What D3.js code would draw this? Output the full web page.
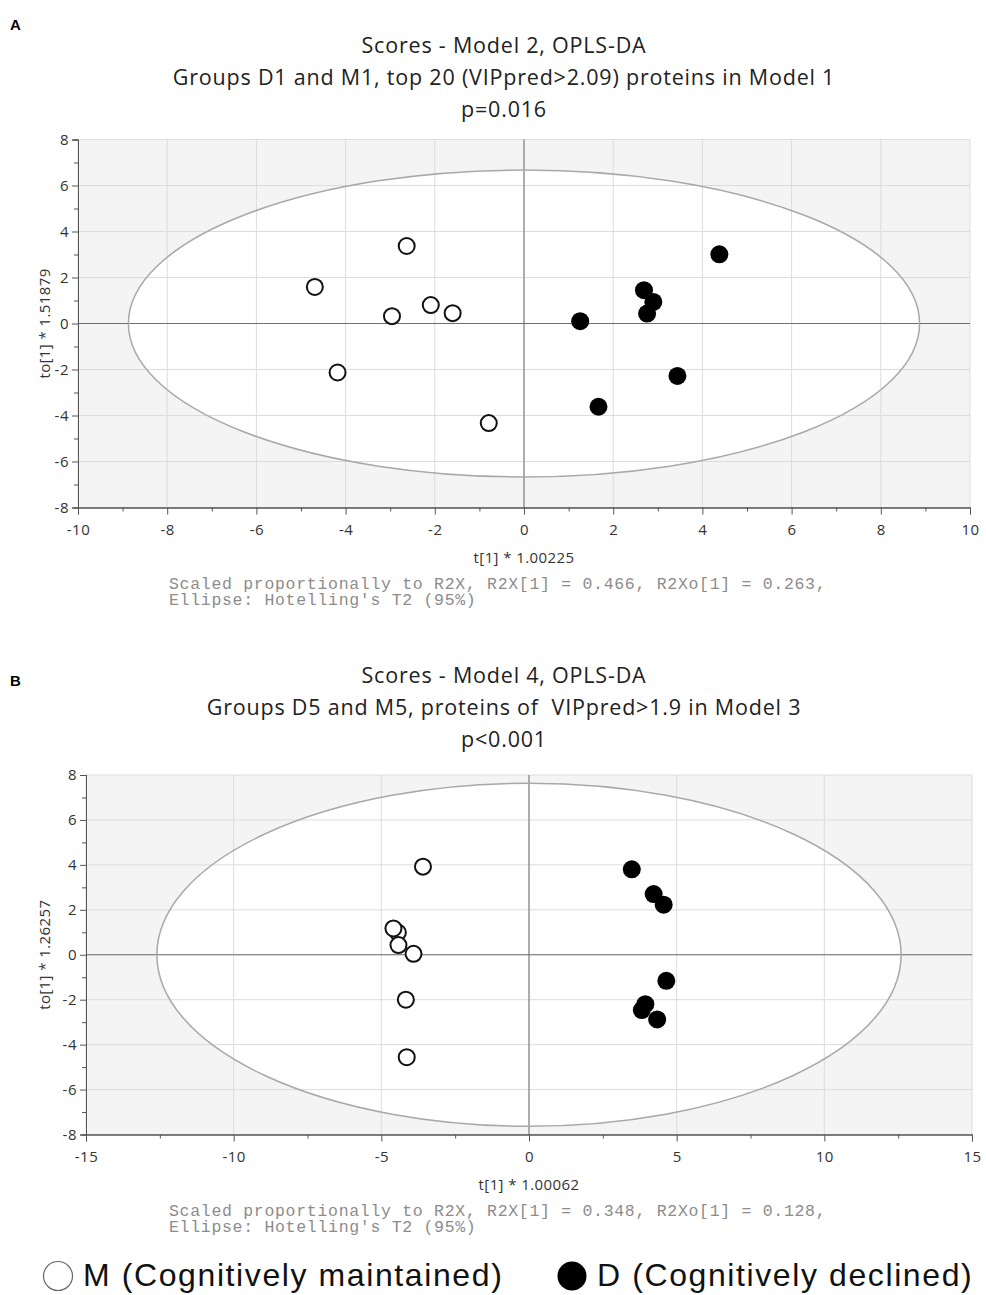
<!DOCTYPE html>
<html>
<head>
<meta charset="utf-8">
<script src="https://cdn.jsdelivr.net/npm/d3@7"></script>
<style>
  body { margin: 0; background: #fff; }
  svg { display: block; }
  text { white-space: pre; }
</style>
</head>
<body>
<div id="chart"></div>
<script>
// Panel A: OPLS-DA scores, Model 2
const aTitle = ['Scores - Model 2, OPLS-DA',
  'Groups D1 and M1, top 20 (VIPpred>2.09) proteins in Model 1', 'p=0.016'];
const aMaintained = [[-4.69, 1.59], [-2.63, 3.37], [-2.96, 0.32], [-2.09, 0.80],
  [-1.60, 0.45], [-4.18, -2.13], [-0.79, -4.33]];
const aDeclined = [[4.38, 3.01], [2.69, 1.45], [2.90, 0.94], [2.76, 0.43],
  [1.26, 0.10], [3.44, -2.28], [1.67, -3.62]];
const aEllipse = [8.87, 6.67];
const aXTicks = [-10, -8, -6, -4, -2, 0, 2, 4, 6, 8, 10];
const aYTicks = [-8, -6, -4, -2, 0, 2, 4, 6, 8];
const aXLabel = 't[1] * 1.00225';
const aYLabel = 'to[1] * 1.51879';
const aNote = ['Scaled proportionally to R2X, R2X[1] = 0.466, R2Xo[1] = 0.263,',
  "Ellipse: Hotelling's T2 (95%)"];

// Panel B: OPLS-DA scores, Model 4
const bTitle = ['Scores - Model 4, OPLS-DA',
  'Groups D5 and M5, proteins of  VIPpred>1.9 in Model 3', 'p<0.001'];
const bMaintained = [[-3.59, 3.92], [-4.44, 0.99], [-4.59, 1.17], [-4.42, 0.43],
  [-3.91, 0.04], [-4.17, -2.00], [-4.14, -4.56]];
const bDeclined = [[3.48, 3.80], [4.22, 2.70], [4.56, 2.23], [4.65, -1.16],
  [3.94, -2.20], [3.82, -2.46], [4.34, -2.88]];
const bEllipse = [12.6, 7.63];
const bXTicks = [-15, -10, -5, 0, 5, 10, 15];
const bYTicks = [-8, -6, -4, -2, 0, 2, 4, 6, 8];
const bXLabel = 't[1] * 1.00062';
const bYLabel = 'to[1] * 1.26257';
const bNote = ['Scaled proportionally to R2X, R2X[1] = 0.348, R2Xo[1] = 0.128,',
  "Ellipse: Hotelling's T2 (95%)"];

const legendItems = [
  { label: 'M (Cognitively maintained)', filled: false },
  { label: 'D (Cognitively declined)', filled: true }
];

const width = 986;
const height = 1295;
const sans = "'Open Sans', 'Noto Sans', sans-serif";

const svg = d3.select('#chart')
  .append('svg')
    .attr('width', width)
    .attr('height', height);

function drawPanel(p) {
  const g = svg.append('g').attr('transform', `translate(0,${p.top})`);

  const x = d3.scaleLinear().domain(p.xDomain).range([p.left, p.right]);
  const y = d3.scaleLinear().domain([-8, 8]).range([p.bottom, p.plotTop]);

  // panel letter
  g.append('text')
    .attr('x', 10).attr('y', p.letterY)
    .style('font', `bold 15px 'Liberation Sans', Arial, sans-serif`)
    .text(p.letter);

  // titles
  g.selectAll('.title')
    .data(p.title)
    .enter()
      .append('text')
        .attr('x', p.titleX)
        .attr('y', (d, i) => 53 + i * 32)
        .attr('text-anchor', 'middle')
        .style('font-family', sans)
        .style('font-size', '21.5px')
        .style('letter-spacing', '0.8px')
        .attr('fill', '#222')
        .text(d => d);

  // plot background, outside ellipse is grey
  g.append('rect')
    .attr('x', p.left).attr('y', p.plotTop)
    .attr('width', p.right - p.left).attr('height', p.bottom - p.plotTop)
    .attr('fill', '#f4f4f4');

  g.append('ellipse')
    .attr('cx', x(0)).attr('cy', y(0))
    .attr('rx', x(p.ellipse[0]) - x(0))
    .attr('ry', y(0) - y(p.ellipse[1]))
    .attr('fill', '#fff');

  // grid
  g.append('g')
    .attr('stroke', '#dcdcdc')
    .selectAll('line')
      .data(p.xTicks)
      .enter()
        .append('line')
          .attr('x1', d => x(d)).attr('x2', d => x(d))
          .attr('y1', p.plotTop).attr('y2', p.bottom);

  g.append('g')
    .attr('stroke', '#dcdcdc')
    .selectAll('line')
      .data(p.yTicks)
      .enter()
        .append('line')
          .attr('x1', p.left).attr('x2', p.right)
          .attr('y1', d => y(d)).attr('y2', d => y(d));

  // zero lines
  g.append('line')
    .attr('x1', x(0)).attr('x2', x(0))
    .attr('y1', p.plotTop).attr('y2', p.bottom)
    .attr('stroke', '#6e6e6e');
  g.append('line')
    .attr('x1', p.left).attr('x2', p.right)
    .attr('y1', y(0)).attr('y2', y(0))
    .attr('stroke', '#6e6e6e');

  g.append('ellipse')
    .attr('cx', x(0)).attr('cy', y(0))
    .attr('rx', x(p.ellipse[0]) - x(0))
    .attr('ry', y(0) - y(p.ellipse[1]))
    .attr('fill', 'none')
    .attr('stroke', '#a8a8a8')
    .attr('stroke-width', 1.5);

  // axes
  g.append('g')
    .attr('transform', `translate(0,${p.bottom})`)
    .call(d3.axisBottom(x).tickValues(p.xMinor).tickSize(4).tickFormat(''));
  g.append('g')
    .attr('transform', `translate(0,${p.bottom})`)
    .call(d3.axisBottom(x).tickValues(p.xTicks).tickSize(7).tickPadding(10)
      .tickFormat(d => String(d)));
  g.append('g')
    .attr('transform', `translate(${p.left},0)`)
    .call(d3.axisLeft(y).tickValues(d3.range(-7, 8, 2)).tickSize(4).tickFormat(''));
  g.append('g')
    .attr('transform', `translate(${p.left},0)`)
    .call(d3.axisLeft(y).tickValues(p.yTicks).tickSize(6).tickPadding(3)
      .tickFormat(d => String(d)));

  g.selectAll('.domain, .tick line').attr('stroke', '#555');
  g.selectAll('.tick text')
    .style('font-family', sans)
    .style('font-size', '15px')
    .style('letter-spacing', '0.5px')
    .attr('fill', '#333');

  // axis titles
  g.append('text')
    .attr('x', x(0)).attr('y', p.bottom + 55)
    .attr('text-anchor', 'middle')
    .style('font-family', sans).style('font-size', '15px')
    .style('letter-spacing', '0.4px')
    .attr('fill', '#333')
    .text(p.xLabel);

  g.append('text')
    .attr('transform', `translate(50,${y(0)}) rotate(-90)`)
    .attr('text-anchor', 'middle')
    .style('font-family', sans).style('font-size', '15px')
    .style('letter-spacing', '0.4px')
    .attr('fill', '#333')
    .text(p.yLabel);

  // note
  g.selectAll('.note')
    .data(p.note)
    .enter()
      .append('text')
        .attr('x', 169)
        .attr('y', (d, i) => p.bottom + 81 + i * 16.5)
        .style('font-family', "'Liberation Mono', 'DejaVu Sans Mono', monospace")
        .style('font-size', '16.5px')
        .style('letter-spacing', '0.7px')
        .attr('fill', '#8c8c8c')
        .text(d => d);

  // points
  g.append('g')
    .selectAll('circle')
      .data(p.maintained)
      .enter()
        .append('circle')
          .attr('cx', d => x(d[0]))
          .attr('cy', d => y(d[1]))
          .attr('r', 8)
          .attr('fill', '#fff')
          .attr('stroke', '#111')
          .attr('stroke-width', 2);

  g.append('g')
    .selectAll('circle')
      .data(p.declined)
      .enter()
        .append('circle')
          .attr('cx', d => x(d[0]))
          .attr('cy', d => y(d[1]))
          .attr('r', 9)
          .attr('fill', '#000');
}

drawPanel({
  letter: 'A', letterY: 30, top: 0, title: aTitle, titleX: 504,
  left: 78, right: 970, plotTop: 139.5, bottom: 507.5,
  xDomain: [-10, 10], xTicks: aXTicks, xMinor: d3.range(-9, 10, 2), yTicks: aYTicks,
  ellipse: aEllipse, maintained: aMaintained, declined: aDeclined,
  xLabel: aXLabel, yLabel: aYLabel, note: aNote
});

drawPanel({
  letter: 'B', letterY: 56, top: 630, title: bTitle, titleX: 504,
  left: 86, right: 972, plotTop: 145, bottom: 504.5,
  xDomain: [-15, 15], xTicks: bXTicks, xMinor: d3.range(-12.5, 15, 5), yTicks: bYTicks,
  ellipse: bEllipse, maintained: bMaintained, declined: bDeclined,
  xLabel: bXLabel, yLabel: bYLabel, note: bNote
});

// legend
const legend = svg.append('g')
  .selectAll('g')
  .data(legendItems)
  .enter()
    .append('g')
      .attr('transform', (d, i) => `translate(${i ? 572 : 58},1276)`);

legend.append('circle')
  .attr('r', 14.5)
  .attr('fill', d => d.filled ? '#000' : '#fff')
  .attr('stroke', d => d.filled ? 'none' : '#666')
  .attr('stroke-width', 1.2);

legend.append('text')
  .attr('x', 25)
  .attr('y', 10)
  .style('font-family', "'Liberation Sans', Arial, sans-serif")
  .style('font-size', '32px')
  .style('letter-spacing', '1.6px')
  .attr('fill', '#111')
  .text(d => d.label);
</script>
</body>
</html>
